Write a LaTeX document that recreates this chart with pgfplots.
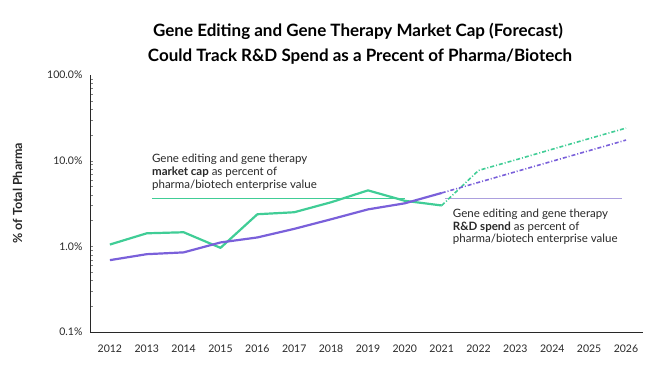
\documentclass[border=0pt]{standalone}
\usepackage{pgfplots}
\pgfplotsset{compat=1.18}
\usepackage{fontspec}
\setmainfont{Lato}
\definecolor{mint}{RGB}{64,205,150}
\definecolor{violet}{RGB}{122,96,218}
\definecolor{lviolet}{RGB}{172,160,222}
\definecolor{txt}{RGB}{40,40,40}
\begin{document}
\begin{tikzpicture}
\useasboundingbox (0pt,0pt) rectangle (650pt,370pt);
\node[font=\bfseries\fontsize{17}{19}\selectfont, text=black] at (358pt,339pt) {Gene Editing and Gene Therapy Market Cap (Forecast)};
\node[font=\bfseries\fontsize{17}{19}\selectfont, text=black] at (360pt,313pt) {Could Track R\&D Spend as a Precent of Pharma/Biotech};
\begin{axis}[
  at={(90pt,38pt)}, anchor=south west,
  width=553pt, height=257pt, scale only axis=true,
  ymode=log, ymin=0.1, ymax=100,
  xmin=2011.46, xmax=2026.46,
  axis x line*=bottom, axis y line*=left,
  axis line style={draw=txt, line width=0.8pt, -},
  major tick length=0pt,
  xtick={2012,...,2026},
  xticklabels={2012,2013,2014,2015,2016,2017,2018,2019,2020,2021,2022,2023,2024,2025,2026},
  ytick={0.1,1,10,100},
  yticklabels={0.1\%,1.0\%,10.0\%,100.0\%},
  tick label style={font=\fontsize{10.5}{12}\selectfont, text=txt},
  /pgf/number format/assume math mode=true,
  xticklabel style={yshift=-9pt},
  yticklabel style={xshift=-4pt},
  ylabel={\% of Total Pharma},
  ylabel style={font=\bfseries\fontsize{12.5}{14}\selectfont, text=txt, yshift=18pt, xshift=10pt},
  clip=false,
]
% annotation guide lines
\addplot[mint, line width=1pt] coordinates {(2013.14,3.64) (2020.0,3.64)};
\addplot[lviolet, line width=1.2pt] coordinates {(2021.09,3.64) (2025.89,3.64)};
% market cap (actual)
\addplot[mint, line width=2.2pt, line join=round] coordinates {
(2012,1.05) (2013,1.42) (2014,1.46) (2015,0.96) (2016,2.37) (2017,2.5)
(2018,3.27) (2019,4.5) (2020,3.4) (2021,3.0)};
% market cap (forecast)
\addplot[mint, line width=1.6pt, dash pattern=on 4pt off 2pt on 1pt off 2pt] coordinates {
(2021,3.0) (2022,7.7) (2023,10.2) (2024,13.6) (2025,18.1) (2026,24.0)};
% R&D spend (actual)
\addplot[violet, line width=2.2pt, line join=round] coordinates {
(2012,0.69) (2013,0.81) (2014,0.85) (2015,1.11) (2016,1.27) (2017,1.6)
(2018,2.07) (2019,2.7) (2020,3.18) (2021,4.2)};
% R&D spend (forecast)
\addplot[violet, line width=1.6pt, dash pattern=on 4pt off 2pt on 1pt off 2pt] coordinates {
(2021,4.2) (2022,5.58) (2023,7.42) (2024,9.86) (2025,13.1) (2026,17.4)};
\node[anchor=north west, align=left, font=\fontsize{11.5}{12.8}\selectfont, text=txt, inner sep=0pt] at (axis cs:2013.14,11.9)
  {Gene editing and gene therapy\\\textbf{market cap} as percent of\\pharma/biotech enterprise value};
\node[anchor=north west, align=left, font=\fontsize{11.5}{12.8}\selectfont, text=txt, inner sep=0pt] at (axis cs:2021.3,2.75)
  {Gene editing and gene therapy\\\textbf{R\&D spend} as percent of\\pharma/biotech enterprise value};
\end{axis}
\end{tikzpicture}
\end{document}
